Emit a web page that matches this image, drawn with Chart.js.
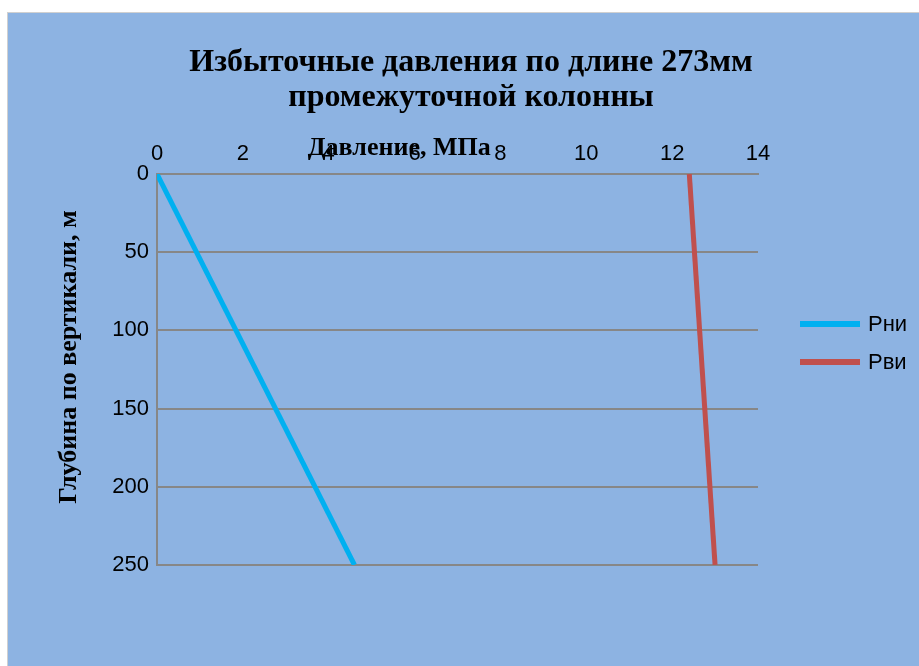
<!DOCTYPE html>
<html>
<head>
<meta charset="utf-8">
<script src="https://cdn.jsdelivr.net/npm/chart.js@4/dist/chart.umd.min.js"></script>
<style>
	html, body { margin: 0; padding: 0; background: #ffffff; }
	#wrap {
		position: absolute; left: 7px; top: 12px;
		width: 912px; height: 654px;
		background: #8db3e2;
		box-shadow: inset 1px 1px 0 #d0d0d0;
	}
	canvas { display: block; }
</style>
</head>
<body>
<div id="wrap"><canvas id="chart" width="912" height="654"></canvas></div>
<script>
	'use strict';

	// depth along the vertical, m
	const depths     = [ 0, 250 ];
	// excess pressures, MPa
	const pNi        = [ 0, 4.6 ];
	const pVi        = [ 12.4, 13.0 ];
	const series     = [ 'Рни', 'Рви' ];
	const xTicks     = [ 0, 2, 4, 6, 8, 10, 12, 14 ];
	const yTicks     = [ 0, 50, 100, 150, 200, 250 ];
	const titleLines = [ 'Избыточные давления по длине 273мм', 'промежуточной колонны' ];
	const xTitle     = 'Давление, МПа';
	const yTitle     = 'Глубина по вертикали, м';

	const serif = "'Liberation Serif', 'DejaVu Serif', serif";
	const sans  = "'Liberation Sans', Arial, sans-serif";

	function toPoints( xs ) {
		return xs.map( function ( x, i ) { return { x: x, y: depths[ i ] }; } );
	}

	// Title, axis captions and right-hand legend, placed as in the original
	const decorations = {
		id: 'decorations',
		afterDraw: function ( chart ) {
			const ctx = chart.ctx;
			const a   = chart.chartArea;
			ctx.save();
			ctx.fillStyle    = '#000';
			ctx.textAlign    = 'center';
			ctx.textBaseline = 'middle';

			ctx.font = 'bold 32px ' + serif;
			titleLines.forEach( function ( line, i ) {
				ctx.fillText( line, 464, 51 + i * 35 );
			} );

			ctx.font = 'bold 26px ' + serif;
			ctx.fillText( xTitle, a.left + ( a.right - a.left ) * 0.403, a.top - 26 );

			ctx.save();
			ctx.translate( 62, 345 );
			ctx.rotate( -Math.PI / 2 );
			ctx.fillText( yTitle, 0, 0 );
			ctx.restore();

			ctx.font      = '22px ' + sans;
			ctx.textAlign = 'left';
			chart.data.datasets.forEach( function ( ds, i ) {
				const y = 312 + i * 38;
				ctx.fillStyle = ds.borderColor;
				ctx.fillRect( a.right + 42, y - 3, 60, 6 );
				ctx.fillStyle = '#000';
				ctx.fillText( ds.label, a.right + 110, y + 1 );
			} );
			ctx.restore();
		},
	};

	new Chart( document.getElementById( 'chart' ), {
		type: 'scatter',
		data: {
			datasets: [ {
				label:           series[0],
				data:            toPoints( pNi ),
				borderColor:     '#00b0f0',
				backgroundColor: '#00b0f0',
				borderWidth:     5,
				showLine:        true,
				pointRadius:     0,
			}, {
				label:           series[1],
				data:            toPoints( pVi ),
				borderColor:     '#c0504d',
				backgroundColor: '#c0504d',
				borderWidth:     5,
				showLine:        true,
				pointRadius:     0,
			} ],
		},
		options: {
			responsive: false,
			animation:  false,
			layout: { padding: { left: 0, right: 161, top: 126, bottom: 101 } },
			plugins: {
				legend:  { display: false },
				tooltip: { enabled: false },
			},
			scales: {
				x: {
					type:     'linear',
					position: 'top',
					min:      0,
					max:      14,
					afterBuildTicks: function ( s ) { s.ticks = xTicks.map( function ( v ) { return { value: v }; } ); },
					afterFit: function ( s ) { s.height = 36; },
					grid:   { display: false, drawTicks: false },
					border: { display: true, color: '#878787', width: 2 },
					ticks:  { color: '#000', padding: 7, maxRotation: 0, font: { family: sans, size: 22 } },
				},
				y: {
					type:    'linear',
					reverse: true,
					min:     0,
					max:     250,
					afterBuildTicks: function ( s ) { s.ticks = yTicks.map( function ( v ) { return { value: v }; } ); },
					afterFit: function ( s ) { s.width = 150; },
					grid:   { color: '#878787', lineWidth: 2, drawTicks: false },
					border: { display: true, color: '#878787', width: 2 },
					ticks:  { color: '#000', padding: 8, font: { family: sans, size: 22, lineHeight: 1.0 } },
				},
			},
		},
		plugins: [ decorations ],
	} );
</script>
</body>
</html>
